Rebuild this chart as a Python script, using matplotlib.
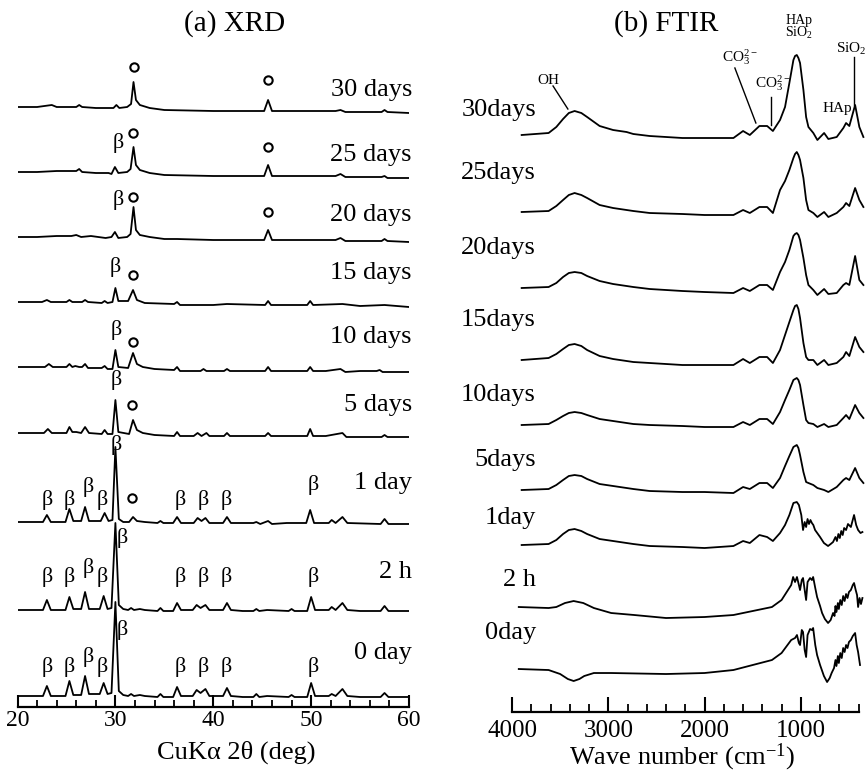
import matplotlib
matplotlib.use('Agg')
import matplotlib.pyplot as plt
from matplotlib.ticker import MultipleLocator

################ styling #################
plt.rc('font', family='Liberation Serif')
plt.rc('mathtext', default='regular')

##############################################
# XRD data (intensity in arbitrary units above each curve's baseline)
##############################################
xrd_labels = ['30 days', '25 days', '20 days', '15 days', '10 days', '5 days', '1 day', '2 h', '0 day']
xrd_offsets = [594, 529, 465, 400, 335, 270, 183, 96, 10]

tt_30d = [20, 22, 23.5, 24, 26, 26.3, 26.6, 28, 29.8, 30.1, 30.4, 31.2, 31.6, 31.85, 32.1, 32.5, 33.5, 35, 40,
          45.2, 45.6, 46.0, 50, 52.5, 53, 53.5, 57.2, 57.5, 57.8, 60]
I_30d = [6, 6, 8, 6, 6, 8, 6, 5, 5, 8, 5, 6, 9, 31, 13, 8, 5, 3, 2, 2, 13, 2, 2, 2, 3, 1, 1, 3, 1, 0]

tt_25d = [20, 22, 24, 26, 26.3, 26.6, 28, 29.3, 29.6, 29.95, 30.3, 31.2, 31.55, 31.85, 32.1, 32.5, 33.5, 35, 40,
          45.2, 45.6, 46, 52.5, 53, 53.5, 57.2, 57.5, 57.8, 60]
I_25d = [6, 6, 7, 7, 9, 6, 5, 5, 4, 11, 5, 6, 9, 31, 13, 8, 5, 3, 2, 2, 13, 2, 2, 4, 1, 1, 2, 0, 0]

tt_20d = [20, 22, 24, 25.5, 26, 26.5, 27.5, 29.0, 29.6, 29.95, 30.3, 31.2, 31.55, 31.85, 32.1, 32.5, 33.5, 35, 36.3,
          40, 45.2, 45.6, 46, 52.5, 53, 53.5, 57.2, 57.5, 57.8, 60]
I_20d = [5, 5, 6, 6, 7, 5, 6, 4, 5, 10, 4, 5, 8, 35, 12, 7, 5, 3, 3, 2, 2, 12, 2, 2, 4, 1, 1, 3, 1, 0]

tt_15d = [20, 22.5, 23.0, 23.4, 25.0, 25.3, 25.6, 26.6, 26.9, 27.2, 28.6, 28.9, 29.2, 29.7, 30.0, 30.3, 31.3, 31.8,
          32.2, 33, 36.0, 36.3, 36.6, 40, 41.4, 45.3, 45.6, 45.9, 49.6, 49.9, 50.2, 53.2, 55, 57.5, 60]
I_15d = [5, 5, 7, 5, 5, 7, 5, 5, 7, 5, 4, 6, 4, 5, 19, 6, 6, 17, 7, 4, 3, 5, 2, 2, 3, 2, 6, 2, 2, 6, 2, 3, 1, 2, 0]

tt_10d = [20, 22.8, 23.2, 23.6, 25.0, 25.3, 25.6, 25.9, 26.3, 26.6, 26.9, 27.2, 28.6, 28.9, 29.2, 29.7, 30.0, 30.3,
          31.3, 31.8, 32.2, 32.8, 34, 36.0, 36.3, 36.6, 38.7, 39.0, 39.3, 41.1, 41.4, 41.7, 45.3, 45.6, 45.9, 49.6,
          49.9, 50.2, 51.5, 53.0, 53.5, 55, 56.7, 57.0, 57.3, 60]
I_10d = [5, 5, 8, 5, 5, 8, 5, 6, 5, 5, 8, 4, 4, 6, 3, 3, 22, 5, 4, 19, 8, 5, 3, 2, 5, 1, 1, 3, 1, 1, 3, 1, 1, 5,
         1, 1, 5, 1, 1, 3, 0, 1, 1, 2, 0, 0]

tt_5d = [20, 22.7, 23.1, 23.5, 25.0, 25.3, 25.6, 26.0, 26.5, 26.9, 27.3, 28.6, 28.9, 29.2, 29.7, 30.0, 30.3, 31.4,
         31.8, 32.2, 32.8, 34, 36.0, 36.3, 36.6, 38.0, 38.4, 38.8, 39.3, 39.6, 41.1, 41.4, 41.7, 45.3, 45.6, 45.9,
         49.6, 49.9, 50.2, 51.5, 53.2, 53.6, 57.2, 57.5, 57.8, 60]
I_5d = [4, 4, 8, 4, 4, 10, 5, 5, 4, 10, 4, 3, 7, 3, 3, 37, 5, 3, 17, 7, 4, 2, 1, 5, 1, 1, 4, 1, 4, 1, 1, 4, 1, 1,
        4, 1, 1, 8, 1, 1, 4, 0, 0, 2, 0, 0]

tt_1d = [20, 22.6, 23.0, 23.4, 24.9, 25.3, 25.7, 26.1, 26.5, 26.9, 27.3, 28.5, 28.9, 29.3, 29.7, 30.0, 30.35, 30.8,
         31.4, 31.8, 32.2, 33, 34.3, 34.6, 34.9, 35.9, 36.3, 36.7, 38.0, 38.4, 38.8, 39.2, 39.6, 41.0, 41.4, 41.8,
         44.1, 44.4, 44.8, 45.6, 46, 47.5, 49.5, 49.9, 50.3, 51.8, 52.1, 52.5, 53.2, 53.7, 57.1, 57.5, 57.9, 60]
I_1d = [2, 2, 9, 2, 2, 15, 3, 3, 3, 17, 3, 3, 11, 3, 4, 77, 5, 2, 2, 7, 3, 2, 1, 3, 1, 1, 7, 1, 1, 6, 3, 6, 1, 1,
        7, 1, 1, 2, 0, 3, 0, 1, 1, 14, 1, 1, 4, 1, 7, 1, 0, 5, 0, 0]

tt_early = [20, 22.6, 23.0, 23.4, 24.9, 25.3, 25.7, 26.1, 26.5, 26.9, 27.3, 28.4, 28.8, 29.2, 29.6, 30.0, 30.35,
            30.8, 31.3, 31.6, 31.9, 32.5, 33.0, 34.3, 34.6, 34.9, 35.9, 36.3, 36.7, 37.9, 38.3, 38.7, 39.2, 39.6,
            41.0, 41.4, 41.8, 43, 44.1, 44.4, 44.7, 45.5, 47.7, 48.0, 48.3, 49.6, 50.0, 50.4, 51.8, 52.1, 52.5,
            53.2, 53.7, 55, 57.1, 57.5, 57.9, 60]
I_2h = [1, 1, 11, 1, 1, 14, 2, 2, 2, 19, 2, 2, 15, 2, 3, 88, 6, 2, 1, 3, 1, 2, 1, 0, 3, 0, 0, 8, 1, 1, 6, 3, 6, 1,
        1, 8, 1, 0, 0, 2, 0, 1, 0, 2, 0, 0, 14, 1, 1, 4, 1, 8, 1, 0, 0, 5, 0, 0]
I_0d = [1, 1, 11, 1, 1, 16, 2, 2, 2, 21, 3, 3, 14, 3, 4, 95, 6, 2, 1, 3, 1, 2, 1, 0, 3, 0, 0, 10, 1, 1, 7, 4, 8, 1,
        1, 9, 1, 0, 0, 3, 0, 1, 0, 2, 0, 0, 14, 1, 1, 3, 1, 8, 1, 0, 0, 4, 0, 0]

xrd_tt = [tt_30d, tt_25d, tt_20d, tt_15d, tt_10d, tt_5d, tt_1d, tt_early, tt_early]
xrd_I = [I_30d, I_25d, I_20d, I_15d, I_10d, I_5d, I_1d, I_2h, I_0d]
xrd_label_dy = [23, 23, 27, 34, 35, 32, 41, 39, 44]

# peak markers: row, 2theta, height above baseline
circ_row = [0, 0, 1, 1, 2, 2, 3, 4, 5, 6]
circ_tt = [31.85, 45.6, 31.8, 45.6, 31.8, 45.6, 31.8, 31.8, 31.7, 31.7]
circ_h = [46, 33, 45, 31, 45, 30, 32, 30, 32, 26]

beta_row = [1, 2, 3, 4, 5,
            6, 6, 6, 6, 6, 6, 6, 6, 6,
            7, 7, 7, 7, 7, 7, 7, 7, 7,
            8, 8, 8, 8, 8, 8, 8, 8, 8]
beta_tt = [30.27, 30.27, 30.0, 30.1, 30.1,
           30.1, 23.0, 25.3, 27.2, 28.7, 36.6, 39.0, 41.3, 50.2,
           30.7, 23.0, 25.3, 27.2, 28.7, 36.6, 39.0, 41.3, 50.2,
           30.7, 23.0, 25.3, 27.2, 28.7, 36.6, 39.0, 41.3, 50.2]
beta_h = [35, 42, 40, 42, 57,
          79, 24, 24, 37, 24, 24, 24, 24, 39,
          73, 34, 34, 43, 34, 34, 34, 34, 34,
          67, 30, 30, 40, 30, 30, 30, 30, 30]

##############################################
# FTIR data (absorbance in arbitrary units above each curve's baseline)
##############################################
ftir_labels = ['30days', '25days', '20days', '15days', '10days', '5days', '1day', '2 h', '0day']
ftir_offsets = [574, 497, 419, 347, 285, 219, 164, 94, 38]
ftir_label_dy = [28, 42, 45, 45, 32, 33, 30, 38, 41]

wn_days = [3900, 3620, 3540, 3470, 3410, 3350, 3280, 3220, 3090, 2950, 2810, 2740, 2570, 2230, 2000, 1700,
           1600, 1530, 1430, 1350, 1290, 1216, 1164, 1119, 1077, 1060, 1042, 1025, 1008, 973, 945, 921,
           870, 828, 758, 714, 627, 558, 530, 496, 436, 392, 350]
A_30d = [3, 5, 11, 19, 25, 27, 25, 21, 12, 8, 6, 4, 2, 0, 0, 0,
         7, 3, 12, 12, 7, 18, 31, 55, 78, 82, 83, 80, 75, 48, 21, 11,
         5, -2, 5, -1, 1, 10, 15, 12, 33, 11, 1]
A_25d = [3, 4, 9, 15, 20, 22, 20, 17, 10, 7, 5, 4, 2, 1, 0, 0,
         5, 2, 8, 8, 2, 25, 34, 45, 57, 61, 63, 60, 55, 37, 15, 5,
         2, -2, 3, -2, 2, 8, 12, 9, 27, 15, 8]
A_20d = [5, 6, 10, 16, 20, 21, 20, 17, 12, 9, 7, 6, 4, 2, 1, 0,
         5, 2, 8, 8, 3, 21, 31, 43, 57, 59, 60, 58, 53, 35, 18, 8,
         3, -2, 4, -1, 0, 8, 10, 8, 37, 13, 8]
A_15d = [5, 7, 11, 16, 20, 21, 19, 15, 9, 6, 4, 3, 2, 0, 0, 0,
         6, 2, 8, 8, 2, 15, 30, 43, 55, 59, 60, 56, 47, 22, 8, 5,
         5, 0, 5, 0, 2, 8, 13, 9, 28, 18, 13]
A_10d = [2, 3, 7, 11, 14, 15, 14, 12, 8, 6, 4, 3, 2, 1, 0, 0,
         5, 2, 8, 8, 3, 15, 27, 37, 47, 48, 49, 47, 42, 22, 7, 4,
         3, 0, 3, 0, 2, 9, 12, 8, 22, 14, 9]
A_5d = [3, 4, 8, 13, 17, 18, 17, 14, 9, 7, 5, 4, 2, 1, 1, 0,
        6, 4, 10, 10, 5, 15, 27, 37, 46, 47, 48, 45, 38, 21, 11, 10,
        8, 5, 3, 1, 6, 13, 15, 13, 25, 15, 10]

wn_1d = [3900, 3620, 3540, 3470, 3410, 3350, 3280, 3220, 3090, 2950, 2810, 2740, 2570, 2230, 2000, 1700,
         1600, 1530, 1430, 1350, 1290, 1216, 1164, 1119, 1077, 1042, 1020, 995, 977, 960, 945, 930, 915, 900,
         885, 870, 852, 800, 760, 717, 690, 665, 640, 625, 610, 595, 580, 565, 550, 530, 510, 480, 447, 425,
         405, 380, 360]
A_1d = [3, 4, 8, 14, 18, 19, 17, 14, 9, 7, 5, 4, 2, 1, 0, 2,
        7, 5, 13, 11, 7, 15, 23, 33, 45, 46, 43, 33, 18, 26, 21, 29, 24, 28,
        25, 23, 18, 11, 5, 2, 4, 6, 11, 7, 14, 10, 17, 13, 20, 18, 24, 21, 33, 23,
        18, 15, 16]

wn_2h = [3930, 3620, 3540, 3450, 3360, 3260, 3150, 2970, 2730, 2400, 2000, 1700,
         1500, 1300, 1200, 1100, 1080, 1060, 1040, 1020, 1008, 990, 977, 960, 945, 930, 904, 885, 872, 850, 831,
         800, 779, 750, 717, 690, 665, 650, 640, 630, 615, 605, 590, 575, 560, 545, 530, 515, 500, 480, 460,
         447, 430, 416, 405, 390, 375, 360]
A_2h = [11, 10, 11, 15, 17, 15, 10, 5, 3, 0, 1, 3,
        7, 11, 18, 33, 41, 36, 41, 33, 28, 38, 40, 28, 18, 36, 40, 38, 41, 30, 21,
        12, 5, -1, -5, -2, 5, 2, 12, 6, 15, 9, 18, 13, 22, 17, 24, 20, 26, 28, 33,
        35, 28, 23, 11, 20, 14, 20]

wn_0d = [3930, 3620, 3500, 3420, 3360, 3300, 3250, 3150, 2970, 2400, 2000, 1700,
         1500, 1300, 1200, 1100, 1060, 1040, 1020, 1008, 990, 977, 960, 945, 930, 904, 885, 872, 850, 831, 800,
         760, 727, 700, 680, 655, 640, 630, 615, 605, 590, 575, 560, 545, 530, 515, 500, 480, 460, 436, 420,
         405, 385]
A_0d = [5, 4, 0, -5, -7, -5, -2, 1, 1, 0, 1, 4,
        9, 14, 21, 34, 36, 39, 31, 29, 44, 42, 24, 17, 39, 45, 44, 46, 29, 19, 9,
        -2, -8, -4, 1, 6, 14, 8, 18, 11, 21, 16, 26, 22, 29, 26, 32, 34, 38, 41, 29,
        22, 9]

ftir_wn = [wn_days, wn_days, wn_days, wn_days, wn_days, wn_days, wn_1d, wn_2h, wn_0d]
ftir_A = [A_30d, A_25d, A_20d, A_15d, A_10d, A_5d, A_1d, A_2h, A_0d]

##############################################

fig = plt.figure(figsize=(8.68, 7.72), dpi=100)

# ---------------- (a) XRD ----------------
ax = fig.add_axes([0.0202, 0.0842, 0.451, 0.9158])
for tt, I, off in zip(xrd_tt, xrd_I, xrd_offsets):
    ax.plot(tt, [v + off for v in I], color='black', linewidth=1.3)
for lab, off, dy in zip(xrd_labels, xrd_offsets, xrd_label_dy):
    ax.text(60.3, off + dy, lab, ha='right', va='center', fontsize=19, clip_on=False)
for r, t, h in zip(circ_row, circ_tt, circ_h):
    ax.plot(t, xrd_offsets[r] + h, 'o', mfc='none', mec='black', ms=6, mew=1.5)
for r, t, h in zip(beta_row, beta_tt, beta_h):
    ax.text(t, xrd_offsets[r] + h, 'β', ha='center', va='center', fontsize=16)

ax.set_xlim(20, 60)
ax.set_ylim(0, 707)
for s in ['left', 'right', 'top']:
    ax.spines[s].set_visible(False)
ax.spines['bottom'].set_linewidth(1.6)
ax.set_yticks([])
ax.set_xticks([20, 30, 40, 50, 60])
ax.xaxis.set_minor_locator(MultipleLocator(2))
ax.tick_params(axis='x', which='major', direction='in', length=9, width=1.5, labelsize=17, pad=2)
ax.tick_params(axis='x', which='minor', direction='in', length=5, width=1.3)
ax.patch.set_visible(False)

# ---------------- (b) FTIR ----------------
ax = fig.add_axes([0.5899, 0.0777, 0.4059, 0.9223])
for wn, A, off in zip(ftir_wn, ftir_A, ftir_offsets):
    ax.plot(wn, [v + off for v in A], color='black', linewidth=1.3, clip_on=False)
for lab, off, dy in zip(ftir_labels, ftir_offsets, ftir_label_dy):
    ax.text(3751, off + dy, lab, ha='right', va='center', fontsize=19, clip_on=False)

# band assignments on the top spectrum
ax.text(3626, 632, 'OH', ha='center', va='center', fontsize=11)
ax.plot([3574, 3420], [626, 603], color='black', linewidth=1.0)
ax.text(1633, 655, r'CO$_3^{2-}$', ha='center', va='center', fontsize=11)
ax.plot([1685, 1467], [644, 589], color='black', linewidth=1.0)
ax.text(1291, 629, r'CO$_3^{2-}$', ha='center', va='center', fontsize=11)
ax.plot([1311, 1311], [615, 587], color='black', linewidth=1.0)
ax.text(1021, 692, 'HAp', ha='center', va='center', fontsize=10)
ax.text(1021, 679, r'SiO$_2$', ha='center', va='center', fontsize=10)
ax.text(481, 663, r'SiO$_2$', ha='center', va='center', fontsize=11, clip_on=False)
ax.plot([450, 450], [655, 607], color='black', linewidth=1.0)
ax.text(616, 604, 'HAp', ha='center', va='center', fontsize=11)

ax.set_xlim(4000, 340)
ax.set_ylim(0, 712)
for s in ['left', 'right', 'top']:
    ax.spines[s].set_visible(False)
ax.spines['bottom'].set_linewidth(1.6)
ax.spines['bottom'].set_bounds(4000, 400)
ax.set_yticks([])
ax.set_xticks([4000, 3000, 2000, 1000])
ax.xaxis.set_minor_locator(MultipleLocator(200))
ax.tick_params(axis='x', which='major', direction='in', length=11, width=1.5, labelsize=18, pad=6)
ax.tick_params(axis='x', which='minor', direction='in', length=6, width=1.3)
ax.patch.set_visible(False)

# titles and axis labels
fig.text(0.2707, 0.970, '(a) XRD', ha='center', va='center', fontsize=21)
fig.text(0.768, 0.970, '(b) FTIR', ha='center', va='center', fontsize=21)
fig.text(0.272, 0.026, 'CuKα 2θ (deg)', ha='center', va='center', fontsize=19)
fig.text(0.786, 0.019, r'Wave number (cm$^{-1}$)', ha='center', va='center', fontsize=19)

plt.savefig('out.png', dpi=100)
